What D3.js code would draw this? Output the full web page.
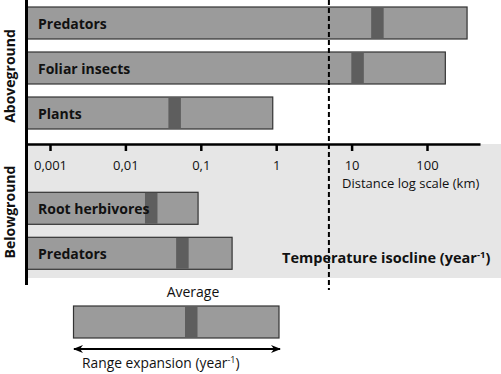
<!DOCTYPE html>
<html>
<head>
<meta charset="utf-8">
<script src="https://cdn.jsdelivr.net/npm/d3@7"></script>
<style>
  body { margin: 0; background: #fff; }
  svg { display: block; font-family: "Open Sans", sans-serif; }
</style>
</head>
<body>
<div id="graphicContainer"></div>
<script>
// range expansion data (km per year), log scale
var aboveCats = ["Predators", "Foliar insects", "Plants"];
var aboveMax = [340, 175, 0.9];
var aboveAvg = [22, 12, 0.045];

var belowCats = ["Root herbivores", "Predators"];
var belowMax = [0.092, 0.26];
var belowAvg = [0.022, 0.057];

var tickValues = [0.001, 0.01, 0.1, 1, 10, 100];
var tickLabels = ["0,001", "0,01", "0,1", "1", "10", "100"];
var isocline = 5;

var width = 501, height = 374;
var svg = d3.select("#graphicContainer").append("svg")
  .attr("width", width).attr("height", height);

// log scale: decades at ~75px, axis line 26 -> 480
var x = d3.scaleLog().domain([0.001, 100]).range([50, 427]);
x.domain([x.invert(26), x.invert(480)]).range([26, 480]);
var xStart = x.domain()[0];

var axisY = 144;
var bandWidthPx = 12.5;

// belowground shaded area
svg.append("rect").attr("x", 26).attr("y", axisY).attr("width", width - 26).attr("height", 134)
  .style("fill", "#e6e6e6");

var yAbove = d3.scaleBand().domain(d3.range(aboveCats.length)).range([0.5, 135.5])
  .paddingInner(0.289).paddingOuter(0.1444);
var yBelow = d3.scaleBand().domain(d3.range(belowCats.length)).range([185.8, 275.8])
  .paddingInner(0.289).paddingOuter(0.1444);

function drawGroup(cats, maxs, avgs, y) {
  var g = svg.append("g");
  cats.forEach(function (c, i) {
    g.append("rect")
      .attr("x", x(xStart)).attr("y", y(i))
      .attr("width", x(maxs[i]) - x(xStart)).attr("height", y.bandwidth())
      .style("fill", "#9b9b9b").style("stroke", "#333").style("stroke-width", 1.2);
    g.append("rect")
      .attr("x", x(avgs[i]) - bandWidthPx / 2).attr("y", y(i) + 0.6)
      .attr("width", bandWidthPx).attr("height", y.bandwidth() - 1.2)
      .style("fill", "#5e5e5e");
    g.append("text")
      .attr("x", 38).attr("y", y(i) + y.bandwidth() / 2 + 6)
      .style("font-size", "14px").style("font-weight", "bold").style("fill", "#111")
      .text(c);
  });
}
drawGroup(aboveCats, aboveMax, aboveAvg, yAbove);
drawGroup(belowCats, belowMax, belowAvg, yBelow);

// x axis
var xAxis = d3.axisBottom(x).tickValues(tickValues)
  .tickFormat(function (d, i) { return tickLabels[i]; })
  .tickSize(7).tickSizeOuter(0).tickPadding(10);
var ax = svg.append("g").attr("transform", "translate(0," + axisY + ")").call(xAxis);
ax.select(".domain").style("stroke", "#000").style("stroke-width", 2.5);
ax.selectAll(".tick line").style("stroke", "#000").style("stroke-width", 2.5);
ax.selectAll(".tick text").style("font-size", "13px").style("fill", "#111")
  .style("font-family", "Open Sans, sans-serif");

// vertical axis
svg.append("line").attr("x1", 26.5).attr("x2", 26.5).attr("y1", 0).attr("y2", 285)
  .style("stroke", "#000").style("stroke-width", 3);

// temperature isocline
svg.append("line").attr("x1", x(isocline)).attr("x2", x(isocline)).attr("y1", 0).attr("y2", 290)
  .style("stroke", "#000").style("stroke-width", 2).style("stroke-dasharray", "5,3");

svg.append("text").attr("x", 342).attr("y", 188)
  .style("font-size", "13px").style("fill", "#111").text("Distance log scale (km)");

var iso = svg.append("text").attr("x", 282).attr("y", 263)
  .style("font-size", "14.5px").style("font-weight", "bold").style("fill", "#111");
iso.append("tspan").text("Temperature isocline (year");
iso.append("tspan").attr("dy", -5).style("font-size", "9.5px").text("-1");
iso.append("tspan").attr("dy", 5).text(")");

// group labels
svg.append("text").attr("transform", "translate(15,76) rotate(-90)")
  .attr("text-anchor", "middle")
  .style("font-size", "14px").style("font-weight", "bold").style("fill", "#111").text("Aboveground");
svg.append("text").attr("transform", "translate(15,212) rotate(-90)")
  .attr("text-anchor", "middle")
  .style("font-size", "14px").style("font-weight", "bold").style("fill", "#111").text("Belowground");

// legend
var leg = svg.append("g");
leg.append("text").attr("x", 193).attr("y", 297).attr("text-anchor", "middle")
  .style("font-size", "14px").style("fill", "#111").text("Average");
leg.append("rect").attr("x", 73.5).attr("y", 306).attr("width", 205.5).attr("height", 32)
  .style("fill", "#9b9b9b").style("stroke", "#333").style("stroke-width", 1.2);
leg.append("rect").attr("x", 185).attr("y", 306.6).attr("width", 12.5).attr("height", 30.8)
  .style("fill", "#5e5e5e");
svg.append("defs").append("marker").attr("id", "ah").attr("viewBox", "0 0 10 10")
  .attr("refX", 9).attr("refY", 5).attr("markerWidth", 5).attr("markerHeight", 5)
  .attr("orient", "auto-start-reverse")
  .append("path").attr("d", "M0,1 L10,5 L0,9 L3,5 Z").style("fill", "#000");
leg.append("line").attr("x1", 74).attr("x2", 280).attr("y1", 349).attr("y2", 349)
  .style("stroke", "#000").style("stroke-width", 2)
  .attr("marker-start", "url(#ah)").attr("marker-end", "url(#ah)");
var re = leg.append("text").attr("x", 82).attr("y", 368)
  .style("font-size", "13.8px").style("fill", "#111");
re.append("tspan").text("Range expansion (year");
re.append("tspan").attr("dy", -5).style("font-size", "9px").text("-1");
re.append("tspan").attr("dy", 5).text(")");
</script>
</body>
</html>
